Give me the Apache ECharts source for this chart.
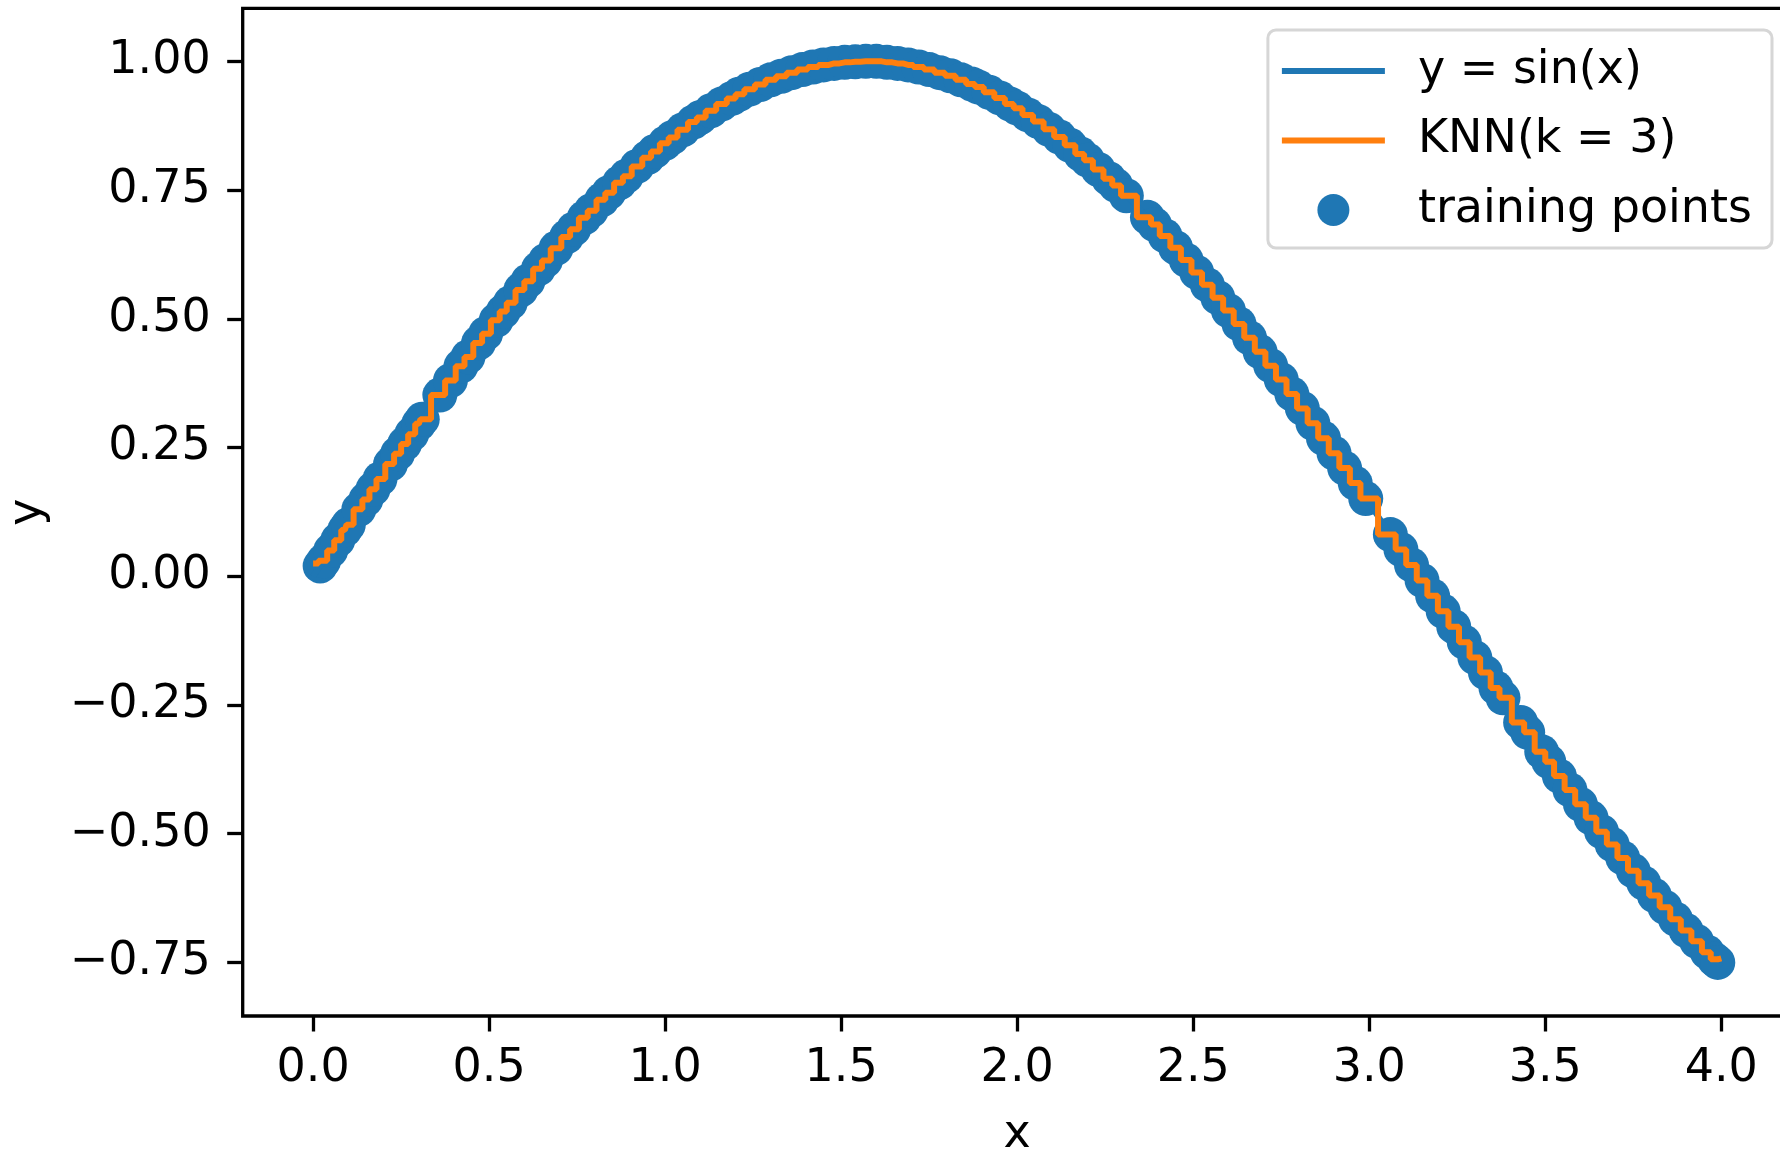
<!DOCTYPE html>
<html>
<head>
<meta charset="utf-8">
<script src="https://cdn.jsdelivr.net/npm/echarts@6/dist/echarts.min.js"></script>
<style>
html,body{margin:0;padding:0;background:#fff;}
#chart{width:1780px;height:1150px;}
</style>
</head>
<body>
<div id="chart"></div>
<script>
// ---- data ----
const trainX = [
  0.02, 0.03, 0.05, 0.07, 0.09, 0.10, 0.13, 0.15, 0.17, 0.19, 0.22, 0.24, 0.26, 0.28, 0.30, 0.31,
  0.36, 0.39, 0.42, 0.44, 0.47, 0.49, 0.52, 0.54, 0.56, 0.59, 0.61, 0.64, 0.66, 0.69, 0.72, 0.74,
  0.77, 0.79, 0.82, 0.84, 0.87, 0.89, 0.92, 0.95, 0.97, 1.00,
  1.02, 1.05, 1.08, 1.10, 1.13, 1.16, 1.19, 1.21, 1.24, 1.27, 1.30, 1.33, 1.36, 1.39, 1.42, 1.45,
  1.48, 1.51, 1.54, 1.57, 1.60, 1.63, 1.66, 1.69, 1.72, 1.75, 1.78, 1.81, 1.84, 1.87, 1.89, 1.92,
  1.95, 1.98, 2.00,
  2.03, 2.06, 2.09, 2.12, 2.15, 2.18, 2.20, 2.23, 2.26, 2.28, 2.31,
  2.37, 2.39, 2.42, 2.45, 2.48, 2.51, 2.54, 2.57, 2.60, 2.63, 2.66, 2.69, 2.72, 2.75, 2.78, 2.81,
  2.84, 2.87, 2.90, 2.93, 2.96, 2.99,
  3.06, 3.09, 3.12, 3.15, 3.18, 3.21, 3.24, 3.27, 3.30, 3.33, 3.36, 3.38,
  3.43, 3.45, 3.49, 3.51, 3.54, 3.57, 3.60, 3.63, 3.66, 3.69, 3.72, 3.75, 3.78, 3.81, 3.84, 3.87,
  3.90, 3.93, 3.96, 3.98, 3.99
];
const trainY = [
  0.020, 0.030, 0.050, 0.070, 0.090, 0.100, 0.130, 0.149, 0.169, 0.189, 0.218, 0.238, 0.257, 0.276, 0.296, 0.305,
  0.352, 0.380, 0.408, 0.426, 0.453, 0.471, 0.497, 0.514, 0.531, 0.556, 0.573, 0.597, 0.613, 0.637, 0.659, 0.674,
  0.696, 0.710, 0.731, 0.745, 0.764, 0.777, 0.796, 0.813, 0.825, 0.841,
  0.852, 0.867, 0.882, 0.891, 0.904, 0.917, 0.928, 0.936, 0.946, 0.955, 0.964, 0.971, 0.978, 0.984, 0.989, 0.993,
  0.996, 0.998, 0.999, 1.000, 1.000, 0.998, 0.996, 0.993, 0.989, 0.984, 0.978, 0.972, 0.964, 0.956, 0.950, 0.940,
  0.929, 0.917, 0.909,
  0.896, 0.883, 0.868, 0.853, 0.837, 0.820, 0.808, 0.790, 0.772, 0.759, 0.739,
  0.697, 0.683, 0.661, 0.638, 0.614, 0.590, 0.566, 0.541, 0.516, 0.490, 0.463, 0.436, 0.409, 0.382, 0.354, 0.326,
  0.297, 0.268, 0.239, 0.210, 0.181, 0.151,
  0.081, 0.052, 0.022, -0.008, -0.038, -0.068, -0.098, -0.128, -0.158, -0.187, -0.217, -0.236,
  -0.284, -0.303, -0.341, -0.360, -0.388, -0.415, -0.443, -0.469, -0.496, -0.521, -0.547, -0.572, -0.596, -0.620, -0.643, -0.666,
  -0.688, -0.709, -0.730, -0.744, -0.750
];
// KNN(k = 3) step levels at the ends of the prediction grid
const knnStart = [0.0, 0.025];
const knnEnd = [4.0, -0.742];
// y = sin(x) curve samples
const sinX = [0.0,0.1,0.2,0.3,0.4,0.5,0.6,0.7,0.8,0.9,1.0,1.1,1.2,1.3,1.4,1.5,1.6,1.7,1.8,1.9,2.0,
              2.1,2.2,2.3,2.4,2.5,2.6,2.7,2.8,2.9,3.0,3.1,3.2,3.3,3.4,3.5,3.6,3.7,3.8,3.9,4.0];
const sinY = [0.000,0.100,0.199,0.296,0.389,0.479,0.565,0.644,0.717,0.783,0.841,0.891,0.932,0.964,0.985,0.997,
              1.000,0.992,0.974,0.946,0.909,0.863,0.808,0.746,0.675,0.598,0.516,0.427,0.335,0.239,0.141,0.042,
              -0.058,-0.158,-0.256,-0.351,-0.443,-0.530,-0.612,-0.688,-0.757];
const xTicks = [0.0, 0.5, 1.0, 1.5, 2.0, 2.5, 3.0, 3.5, 4.0];
const yTicks = [-0.75, -0.50, -0.25, 0.00, 0.25, 0.50, 0.75, 1.00];

const FONT = 'DejaVu Sans';
const FS = 46;
const trainPts = trainX.map((x, i) => [x, trainY[i]]);
const sinPts = sinX.map((x, i) => [x, sinY[i]]);
const knnPts = [knnStart].concat(trainPts.slice(1, -1)).concat([knnEnd]);
const LINE_ICON = 'path://M0,0L100,0L100,6L0,6Z';

const chart = echarts.init(document.getElementById('chart'), null, {renderer: 'canvas'});
chart.setOption({
  animation: false,
  backgroundColor: '#ffffff',
  grid: {
    left: 242.7, top: 8.3, right: -11.7, bottom: 134,
    show: true, borderColor: '#000', borderWidth: 3.3, backgroundColor: 'transparent',
    containLabel: false, outerBoundsMode: 'none'
  },
  xAxis: {
    type: 'value', min: -0.2, max: 4.2,
    axisLine: {show: false, onZero: false},
    splitLine: {show: false},
    axisTick: {show: true, customValues: xTicks, length: 15.5, lineStyle: {color: '#000', width: 3.3}},
    axisLabel: {customValues: xTicks, formatter: v => v.toFixed(1), fontSize: FS, fontFamily: FONT, color: '#000', margin: 30},
    name: 'x', nameLocation: 'middle', nameGap: 96,
    nameTextStyle: {fontSize: FS, fontFamily: FONT, color: '#000'}
  },
  yAxis: {
    type: 'value', min: -0.854, max: 1.103,
    axisLine: {show: false, onZero: false},
    splitLine: {show: false},
    axisTick: {show: true, customValues: yTicks, length: 15.5, lineStyle: {color: '#000', width: 3.3}},
    axisLabel: {customValues: yTicks, formatter: v => (v < 0 ? '\u2212' : '') + Math.abs(v).toFixed(2),
                fontSize: FS, fontFamily: FONT, color: '#000', margin: 32, padding: [14, 0, 0, 0]},
    name: 'y', nameLocation: 'middle', nameGap: 192, nameRotate: 90,
    nameTextStyle: {fontSize: FS, fontFamily: FONT, color: '#000'}
  },
  legend: {
    orient: 'vertical', right: 8, top: 30,
    itemWidth: 103, itemHeight: 32, itemGap: 23.5,
    padding: [18, 20, 15, 14],
    borderColor: '#d6d6d6', borderWidth: 3, borderRadius: 8,
    backgroundColor: 'rgba(255,255,255,0.8)',
    selectedMode: false,
    textStyle: {fontSize: FS, fontFamily: FONT, color: '#000', padding: [0, 0, 0, 28], lineHeight: 46},
    data: [
      {name: 'y = sin(x)', icon: LINE_ICON},
      {name: 'KNN(k = 3)', icon: LINE_ICON},
      {name: 'training points', icon: 'circle'}
    ]
  },
  series: [
    {
      type: 'scatter', name: 'training points', data: trainPts,
      symbol: 'circle', symbolSize: 35,
      itemStyle: {color: '#1f77b4', opacity: 1}, z: 2
    },
    {
      type: 'line', name: 'y = sin(x)', data: sinPts, smooth: true,
      symbol: 'none', showSymbol: false,
      lineStyle: {color: '#1f77b4', width: 6}, itemStyle: {color: '#1f77b4'}, z: 3
    },
    {
      type: 'line', name: 'KNN(k = 3)', data: knnPts, step: 'middle',
      symbol: 'none', showSymbol: false,
      lineStyle: {color: '#ff7f0e', width: 6}, itemStyle: {color: '#ff7f0e'}, z: 4
    }
  ]
});
</script>
</body>
</html>
